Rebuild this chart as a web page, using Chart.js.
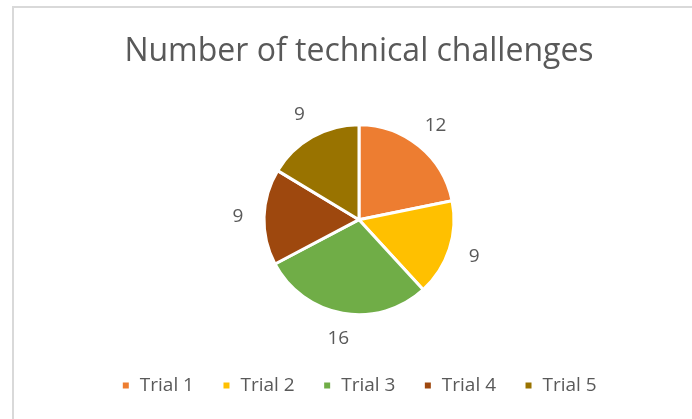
<!DOCTYPE html>
<html>
<head>
<meta charset="utf-8">
<script src="https://cdn.jsdelivr.net/npm/chart.js@4"></script>
<style>
    html, body { margin: 0; padding: 0; background: #fff; }
    #wrap { position: relative; width: 692px; height: 419px; overflow: hidden; }
    #frame {
        position: absolute; left: 12px; top: 6px; width: 720px; height: 440px;
        border-left: 2px solid #d9d9d9; border-top: 2px solid #d9d9d9;
    }
    canvas { position: absolute; left: 0; top: 0; }
</style>
</head>
<body>
<div id="wrap">
    <div id="frame"></div>
    <canvas id="pieChart" width="692" height="419"></canvas>
</div>
<script>
const chartTitle = 'Number of technical challenges';
const categories = ['Trial 1', 'Trial 2', 'Trial 3', 'Trial 4', 'Trial 5'];
const challenges = [12, 9, 16, 9, 9];
const sliceColors = ['#ED7D31', '#FFC000', '#70AD47', '#9E480E', '#997300'];

const textColor = '#595959';
const fontFamily = "'Open Sans', sans-serif";

// draws the value next to each slice, outside the pie
const outsideLabels = {
    id: 'outsideLabels',
    afterDatasetsDraw(chart) {
        const ctx = chart.ctx;
        const meta = chart.getDatasetMeta(0);
        ctx.save();
        ctx.fillStyle = textColor;
        ctx.font = `19px ${fontFamily}`;
        ctx.textAlign = 'center';
        ctx.textBaseline = 'middle';
        meta.data.forEach((arc, i) => {
            const mid = (arc.startAngle + arc.endAngle) / 2;
            const r = arc.outerRadius + 26;
            ctx.fillText(String(challenges[i]), arc.x + Math.cos(mid) * r, arc.y + Math.sin(mid) * r);
        });
        ctx.restore();
    }
};

const ctx = document.getElementById('pieChart').getContext('2d');
new Chart(ctx, {
    type: 'pie',
    data: {
        labels: categories,
        datasets: [{
            data: challenges,
            backgroundColor: sliceColors,
            borderColor: '#ffffff',
            borderWidth: 3,
            hoverOffset: 0,
            radius: 95
        }]
    },
    options: {
        responsive: false,
        animation: false,
        layout: { padding: { left: 26, right: 0, top: 0, bottom: 14 } },
        plugins: {
            title: {
                display: true,
                text: chartTitle,
                color: textColor,
                font: { family: fontFamily, size: 32, weight: 'normal' },
                padding: { top: 33, bottom: 20 }
            },
            legend: {
                position: 'bottom',
                labels: {
                    color: textColor,
                    font: { family: fontFamily, size: 19 },
                    boxWidth: 9,
                    boxHeight: 9,
                    padding: 28
                }
            },
            tooltip: { enabled: false }
        }
    },
    plugins: [outsideLabels]
});
</script>
</body>
</html>
